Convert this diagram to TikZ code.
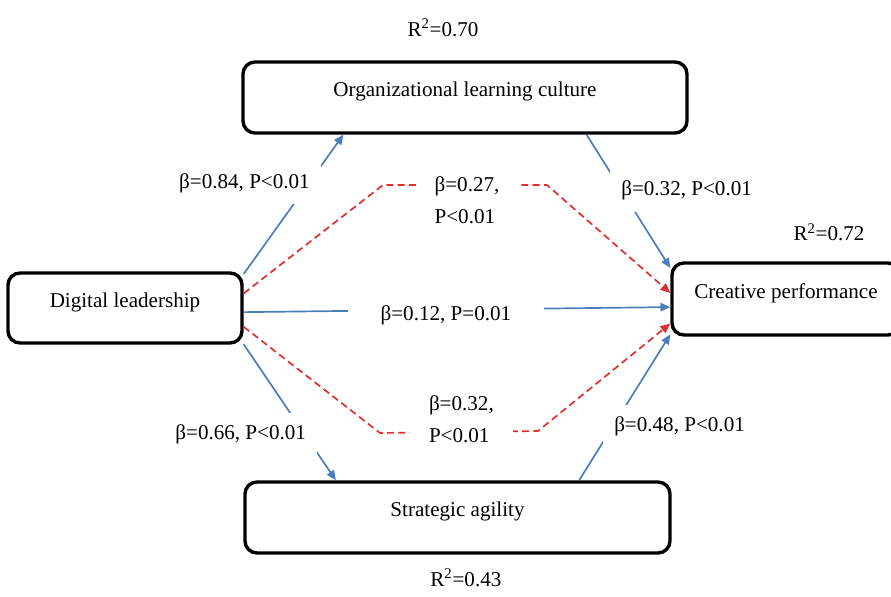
\documentclass[tikz,border=0pt]{standalone}
\usepackage{fontspec}
\setmainfont{Liberation Serif}
\usepackage{tikz}
\usetikzlibrary{arrows.meta}
\definecolor{pathblue}{RGB}{74,126,187}
\definecolor{pathred}{RGB}{225,45,45}
\tikzstyle{construct} = [rectangle, draw, rounded corners=3mm, line width=2.4pt, minimum height=1.775cm, text height=0.4cm, text depth=0.45cm]
\tikzstyle{connector} = [line width=1.2pt, pathblue, -{Triangle[length=7pt,width=6pt]}]
\tikzstyle{mediator} = [connector, pathred, dash pattern=on 5pt off 3pt]
\tikzstyle{coef} = [fill=white, text=black, inner xsep=8pt, inner ysep=8pt]

\begin{document}
\begin{tikzpicture}[every node/.style={font=\fontsize{15}{23}\selectfont}]
        \useasboundingbox (0,0) rectangle (22.275,-14.925);
        \node (digital-lead) [construct, minimum width=5.85cm, minimum height=1.75cm] at (3.125,-7.7) {Digital leadership};
        \node (learn-culture) [construct, right of=digital-lead, xshift=7.5cm, yshift=5.2625cm, minimum width=11.1cm] {Organizational learning culture};
        \node (creative-perf) [construct, right of=digital-lead, xshift=15.525cm, yshift=0.225cm, minimum width=5.7cm, minimum height=1.8cm] {Creative performance};
        \node (strat-agility) [construct, right of=digital-lead, xshift=7.3125cm, yshift=-5.2375cm, minimum width=10.625cm] {Strategic agility};
        \node (r2-culture) [above of=learn-culture, xshift=-0.55cm, yshift=0.74cm] {R\textsuperscript{2}=0.70};
        \node (r2-creative) [above of=creative-perf, xshift=1.075cm, yshift=0.675cm] {R\textsuperscript{2}=0.72};
        \node (r2-agility) [below of=strat-agility, xshift=0.21cm, yshift=-0.51cm] {R\textsuperscript{2}=0.43};
        \coordinate (bend-1) at (9.575,-4.625);
        \coordinate (bend-2) at (13.675,-4.625);
        \coordinate (bend-3) at (9.5,-10.825);
        \coordinate (bend-4) at (13.45,-10.775);
        \draw [connector] (digital-lead.16) -- node[coef, pos=0.65, xshift=-1.6cm] {β=0.84, P<0.01} (learn-culture.197);
        \draw [connector] (learn-culture.-17) -- node[coef, pos=0.42, xshift=1.62cm] {β=0.32, P<0.01} (creative-perf.165);
        \draw [connector] (digital-lead.-2) -- node[coef, pos=0.474, yshift=-0.135cm, inner xsep=23pt] {β=0.12, P=0.01} (creative-perf.184);
        \draw [connector] (digital-lead.-17) -- node[coef, pos=0.662, xshift=-1.6cm] {β=0.66, P<0.01} (strat-agility.163);
        \draw [connector] (strat-agility.17) -- node[coef, pos=0.373, xshift=1.66cm] {β=0.48, P<0.01} (creative-perf.197);
        \draw [mediator] (digital-lead.7) -- (bend-1) -- node[coef, align=left, inner xsep=13.5pt, xshift=0.05cm, yshift=-0.375cm] {β=0.27,\\P<0.01} (bend-2) -- (creative-perf.177);
        \draw [mediator] (digital-lead.-9) -- (bend-3) -- node[coef, align=left, inner xsep=13.5pt, xshift=0.06cm, yshift=0.325cm] {β=0.32,\\P<0.01} (bend-4) -- (creative-perf.192);
    \end{tikzpicture}
\end{document}
